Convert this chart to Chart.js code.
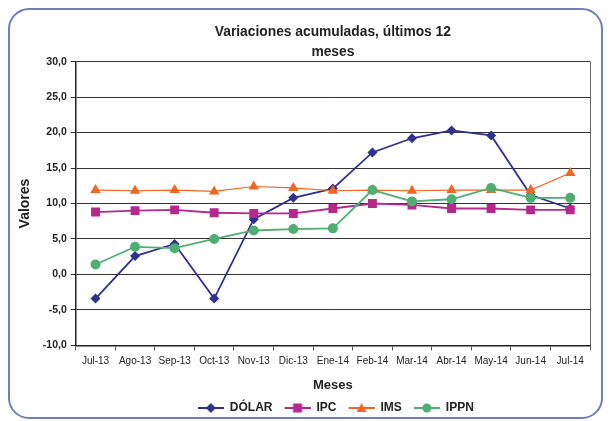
<!DOCTYPE html>
<html>
<head>
<meta charset="utf-8">
<script src="https://cdn.jsdelivr.net/npm/chart.js@4"></script>
<style>
  html, body { margin: 0; padding: 0; background: #fff; }
  #wrap { width: 611px; height: 421px; }
</style>
</head>
<body>
<div id="wrap"><canvas id="myChart" width="611" height="421"></canvas></div>
<script>
// data
var meses = ["Jul-13", "Ago-13", "Sep-13", "Oct-13", "Nov-13", "Dic-13", "Ene-14", "Feb-14", "Mar-14", "Abr-14", "May-14", "Jun-14", "Jul-14"];
var dolar = [-3.4, 2.6, 4.3, -3.4, 7.8, 10.8, 12.1, 17.2, 19.2, 20.3, 19.6, 11.2, 9.3];
var ipc = [8.8, 9.0, 9.1, 8.7, 8.6, 8.6, 9.3, 10.0, 9.8, 9.3, 9.3, 9.1, 9.1];
var ims = [11.9, 11.8, 11.9, 11.7, 12.4, 12.2, 11.8, 11.9, 11.8, 11.9, 11.9, 11.9, 14.3];
var ippn = [1.4, 3.9, 3.7, 5.0, 6.2, 6.4, 6.5, 11.9, 10.3, 10.6, 12.2, 10.8, 10.8];

var FONT = "'Liberation Sans', Arial, sans-serif";

// little canvas with line + marker, used as legend symbol
// (6px blank on the left gives the space between legend items)
function legendIcon(color, style) {
    var c = document.createElement("canvas");
    c.width = 32;
    c.height = 12;
    var ctx = c.getContext("2d");
    ctx.strokeStyle = color;
    ctx.lineWidth = 2;
    ctx.beginPath();
    ctx.moveTo(6, 6);
    ctx.lineTo(32, 6);
    ctx.stroke();
    ctx.fillStyle = color;
    ctx.beginPath();
    if (style === "rectRot") {
        ctx.moveTo(19, 1); ctx.lineTo(24, 6); ctx.lineTo(19, 11); ctx.lineTo(14, 6);
    } else if (style === "rect") {
        ctx.rect(14.5, 1.5, 9, 9);
    } else if (style === "triangle") {
        ctx.moveTo(19, 1); ctx.lineTo(24, 10); ctx.lineTo(14, 10);
    } else {
        ctx.arc(19, 6, 4.5, 0, Math.PI * 2);
    }
    ctx.closePath();
    ctx.fill();
    return c;
}

// white background, rounded frame and right edge of the plot
var framePlugin = {
    id: "frame",
    beforeDraw: function (chart) {
        var ctx = chart.ctx;
        ctx.save();
        ctx.fillStyle = "#fff";
        ctx.fillRect(0, 0, chart.width, chart.height);
        ctx.strokeStyle = "#6f80b9";
        ctx.lineWidth = 2;
        ctx.beginPath();
        ctx.roundRect(9, 9, 593, 409, 20);
        ctx.stroke();
        ctx.restore();
    },
    afterDatasetsDraw: function (chart) {
        var a = chart.chartArea;
        var ctx = chart.ctx;
        ctx.save();
        ctx.strokeStyle = "#666";
        ctx.lineWidth = 1;
        ctx.beginPath();
        ctx.moveTo(a.right + 0.5, a.top);
        ctx.lineTo(a.right + 0.5, a.bottom);
        ctx.stroke();
        ctx.restore();
    }
};

var series = [
    { label: "DÓLAR", data: dolar, color: "#2e3192", style: "rectRot", radius: 5, width: 1.8 },
    { label: "IPC", data: ipc, color: "#b5298f", style: "rect", radius: 6.3, width: 1.8 },
    { label: "IMS", data: ims, color: "#f26522", style: "triangle", radius: 6, width: 1.2 },
    { label: "IPPN", data: ippn, color: "#4fae72", style: "circle", radius: 5, width: 1.8 }
];

var datasets = series.map(function (s) {
    return {
        label: s.label,
        data: s.data,
        borderColor: s.color,
        backgroundColor: s.color,
        borderWidth: s.width,
        pointStyle: s.style,
        pointRadius: s.radius,
        pointBorderWidth: 0,
        tension: 0,
        icon: legendIcon(s.color, s.style)
    };
});

var ctx = document.getElementById("myChart").getContext("2d");
var myChart = new Chart(ctx, {
    type: "line",
    data: { labels: meses, datasets: datasets.slice().reverse() },
    plugins: [framePlugin],
    options: {
        responsive: false,
        animation: false,
        layout: { padding: { left: 17, right: 21, top: 23, bottom: -3 } },
        plugins: {
            title: {
                display: true,
                fullSize: false,
                text: ["Variaciones acumuladas, últimos 12", "meses"],
                color: "#222",
                font: { family: FONT, size: 13.8, weight: "bold", lineHeight: 1.4 },
                padding: { top: 0, bottom: 0 }
            },
            legend: {
                position: "bottom",
                fullSize: false,
                reverse: true,
                labels: {
                    usePointStyle: true,
                    pointStyleWidth: 32,
                    color: "#222",
                    font: { family: FONT, size: 12, weight: "bold" },
                    padding: 6,
                    generateLabels: function (chart) {
                        return chart.data.datasets.map(function (ds, i) {
                            return {
                                text: ds.label,
                                pointStyle: ds.icon,
                                fontColor: "#222",
                                datasetIndex: i,
                                lineWidth: 0
                            };
                        });
                    }
                }
            },
            tooltip: { enabled: false }
        },
        scales: {
            x: {
                offset: true,
                grid: { drawOnChartArea: false, color: "#555", tickLength: 5, offset: true },
                border: { color: "#222", width: 1.5 },
                ticks: { color: "#222", font: { family: FONT, size: 10 }, maxRotation: 0, autoSkip: false, padding: 5 },
                title: {
                    display: true,
                    text: "Meses",
                    color: "#222",
                    font: { family: FONT, size: 13, weight: "bold" },
                    padding: { top: 5, bottom: 3 }
                }
            },
            y: {
                min: -10,
                max: 30,
                ticks: {
                    stepSize: 5,
                    color: "#222",
                    font: { family: FONT, size: 10.5, weight: "bold" },
                    padding: 4,
                    callback: function (v) { return v.toFixed(1).replace(".", ","); }
                },
                grid: { color: "#333", lineWidth: 1, tickLength: 5 },
                border: { color: "#222", width: 1.5 },
                title: {
                    display: true,
                    text: "Valores",
                    color: "#222",
                    font: { family: FONT, size: 14, weight: "bold" },
                    padding: { top: 0, bottom: 5 }
                }
            }
        }
    }
});
</script>
</body>
</html>
